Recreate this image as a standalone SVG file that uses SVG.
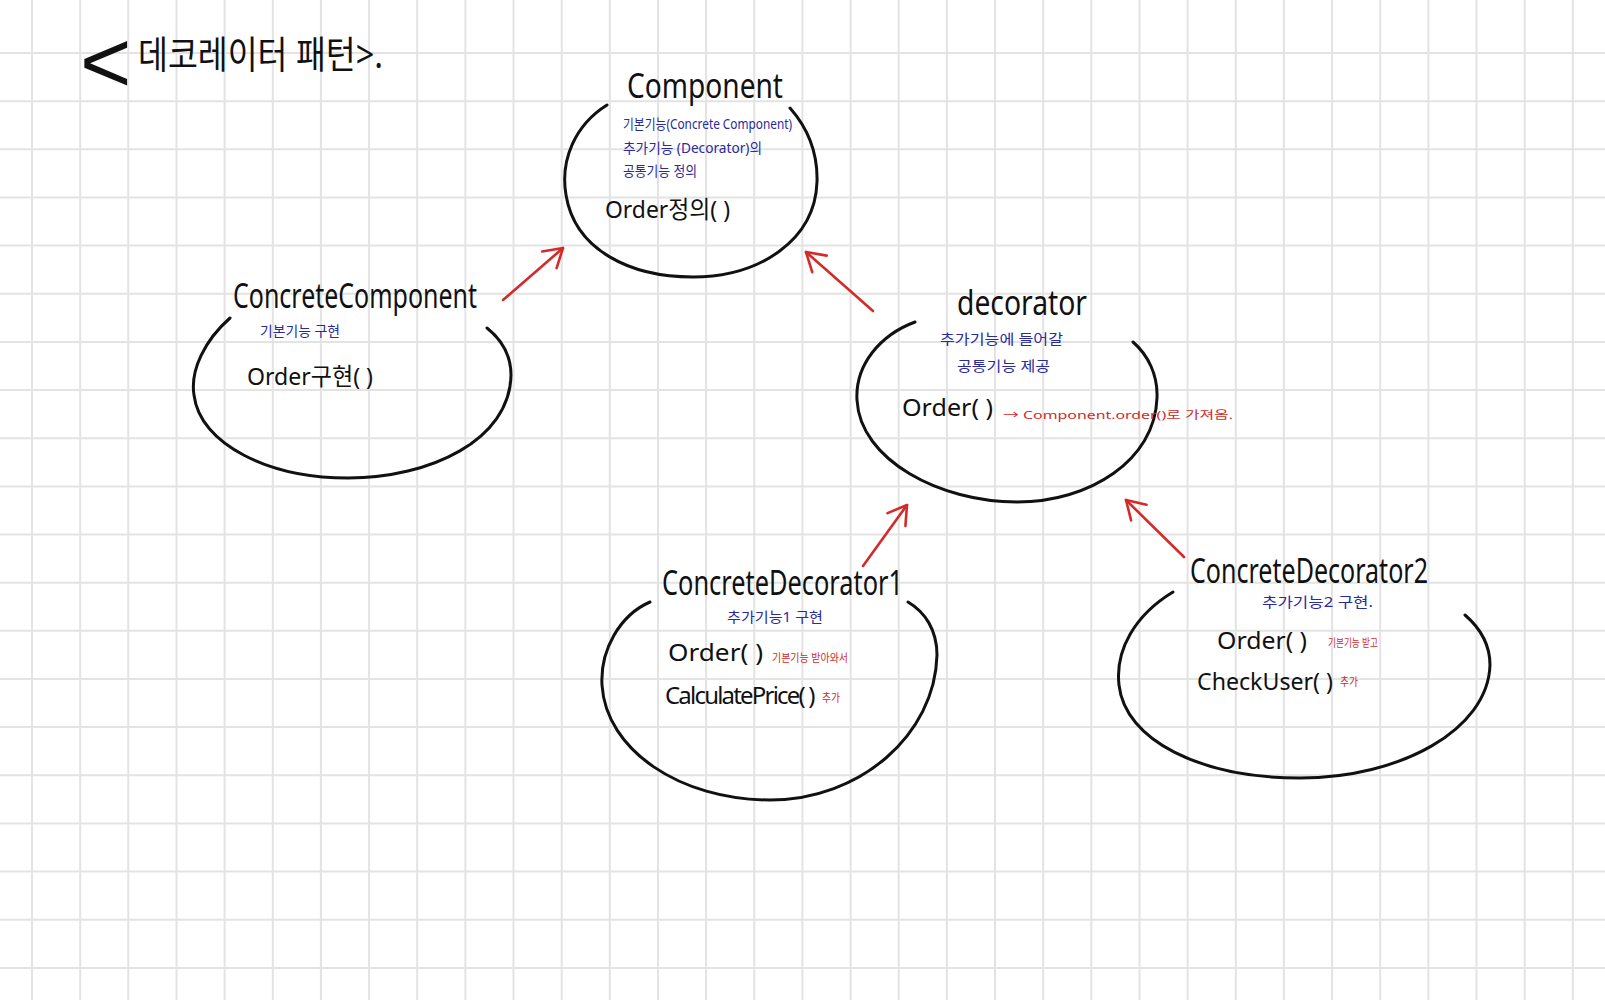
<svg xmlns="http://www.w3.org/2000/svg" width="1605" height="1000" viewBox="0 0 1605 1000">
<defs>
<style>
.grid{stroke:#e3e3e3;stroke-width:2;fill:none}
.ring{fill:none;stroke:#111;stroke-width:3;stroke-linecap:round}
.t{font-family:"Noto Sans","Noto Sans CJK KR",sans-serif;fill:#111}
.title{font-size:34px}
.m{font-size:24px}
.b{font-size:14px;fill:#2a2a9c}
.r{font-size:11px;fill:#d02a2a}
.conn{stroke:#d42a2a;stroke-width:2.6;fill:none;stroke-linecap:round}
</style>
<marker id="ah" viewBox="-22 -14 26 28" refX="0" refY="0" markerWidth="26" markerHeight="28" markerUnits="userSpaceOnUse" orient="auto">
<path d="M-18,-11 L0,0 L-18,11" fill="none" stroke="#d42a2a" stroke-width="2.6" stroke-linecap="round" stroke-linejoin="round"/>
</marker>
</defs>
<rect width="1605" height="1000" fill="#ffffff"/>
<g id="grid">
<path class="grid" d="M32,0V1000M80.2,0V1000M128.3,0V1000M176.5,0V1000M224.6,0V1000M272.8,0V1000M320.9,0V1000M369.1,0V1000M417.2,0V1000M465.4,0V1000M513.5,0V1000M561.7,0V1000M609.8,0V1000M658,0V1000M706.1,0V1000M754.3,0V1000M802.4,0V1000M850.6,0V1000M898.7,0V1000M946.9,0V1000M995,0V1000M1043.2,0V1000M1091.3,0V1000M1139.5,0V1000M1187.6,0V1000M1235.8,0V1000M1283.9,0V1000M1332.1,0V1000M1380.2,0V1000M1428.4,0V1000M1476.5,0V1000M1524.7,0V1000M1572.8,0V1000"/>
<path class="grid" d="M0,53H1605M0,101.2H1605M0,149.3H1605M0,197.5H1605M0,245.6H1605M0,293.8H1605M0,341.9H1605M0,390.1H1605M0,438.2H1605M0,486.4H1605M0,534.5H1605M0,582.7H1605M0,630.8H1605M0,679H1605M0,727.1H1605M0,775.3H1605M0,823.4H1605M0,871.6H1605M0,919.7H1605M0,967.9H1605"/>
</g>
<g id="title">
<text x="80" y="92" font-family="'Liberation Sans', sans-serif" font-size="88" fill="#111">&lt;</text>
<text class="t" x="138" y="68" font-size="38" textLength="245" lengthAdjust="spacingAndGlyphs">데코레이터 패턴&gt;.</text>
</g>
<g id="component">
<path class="ring" d="M607,105 C575,125 560,160 566,195 C575,250 630,277 693,277 C760,277 815,240 817,182 C818,150 805,125 790,108"/>
<text class="t title" x="627" y="98" textLength="156" lengthAdjust="spacingAndGlyphs">Component</text>
<text class="t b" x="623" y="129" font-size="13" textLength="169" lengthAdjust="spacingAndGlyphs">기본기능(Concrete Component)</text>
<text class="t b" x="623" y="153" font-size="13" textLength="139" lengthAdjust="spacingAndGlyphs">추가기능 (Decorator)의</text>
<text class="t b" x="623" y="176" font-size="13" textLength="74" lengthAdjust="spacingAndGlyphs">공통기능 정의</text>
<text class="t m" x="605" y="218" textLength="125" lengthAdjust="spacingAndGlyphs">Order정의( )</text>
</g>
<g id="concrete-component">
<path class="ring" d="M230,318 C205,340 190,370 194,395 C200,445 270,478 348,478 C430,478 510,440 511,375 C511,355 502,340 487,328"/>
<text class="t title" x="233" y="308" textLength="244" lengthAdjust="spacingAndGlyphs">ConcreteComponent</text>
<text class="t b" x="260" y="336" textLength="80" lengthAdjust="spacingAndGlyphs">기본기능 구현</text>
<text class="t m" x="247" y="385" textLength="126" lengthAdjust="spacingAndGlyphs">Order구현( )</text>
</g>
<g id="decorator">
<path class="ring" d="M915,322 C880,335 855,365 857,400 C860,460 940,502 1017,502 C1090,502 1155,460 1157,398 C1158,375 1148,355 1133,342"/>
<text class="t title" x="957" y="315" textLength="130" lengthAdjust="spacingAndGlyphs">decorator</text>
<text class="t b" x="940" y="344" font-size="16" textLength="123" lengthAdjust="spacingAndGlyphs">추가기능에 들어갈</text>
<text class="t b" x="957" y="371" font-size="16" textLength="93" lengthAdjust="spacingAndGlyphs">공통기능 제공</text>
<text class="t m" x="902" y="416" font-size="27" textLength="91" lengthAdjust="spacingAndGlyphs">Order( )</text>
<text class="t r" x="1003" y="419" font-size="18" textLength="230" lengthAdjust="spacingAndGlyphs">→ Component.order()로 가져옴.</text>
</g>
<g id="concrete-decorator1">
<path class="ring" d="M650,602 C620,615 600,650 602,685 C606,750 680,800 770,800 C860,800 935,735 937,655 C937,630 925,612 908,602"/>
<text class="t title" x="662" y="595" textLength="241" lengthAdjust="spacingAndGlyphs">ConcreteDecorator1</text>
<text class="t b" x="727" y="622" font-size="15" textLength="96" lengthAdjust="spacingAndGlyphs">추가기능1 구현</text>
<text class="t m" x="668" y="661" font-size="26" textLength="95" lengthAdjust="spacingAndGlyphs">Order( )</text>
<text class="t r" x="772" y="662" font-size="10" textLength="76" lengthAdjust="spacingAndGlyphs">기본기능 받아와서</text>
<text class="t m" x="665" y="704" font-size="24" letter-spacing="-1.8">CalculatePrice( )</text>
<text class="t r" x="822" y="702" font-size="10" textLength="18" lengthAdjust="spacingAndGlyphs">추가</text>
</g>
<g id="concrete-decorator2">
<path class="ring" d="M1173,592 C1135,615 1115,650 1119,685 C1125,740 1200,778 1300,778 C1400,778 1488,730 1490,665 C1490,645 1480,628 1465,615"/>
<text class="t title" x="1190" y="583" font-size="31" textLength="238" lengthAdjust="spacingAndGlyphs">ConcreteDecorator2</text>
<text class="t b" x="1262" y="607" font-size="15" textLength="111" lengthAdjust="spacingAndGlyphs">추가기능2 구현.</text>
<text class="t m" x="1217" y="649" font-size="26" textLength="90" lengthAdjust="spacingAndGlyphs">Order( )</text>
<text class="t r" x="1328" y="647" font-size="10" textLength="50" lengthAdjust="spacingAndGlyphs">기본기능 받고</text>
<text class="t m" x="1197" y="690" font-size="26" textLength="136" lengthAdjust="spacingAndGlyphs">CheckUser( )</text>
<text class="t r" x="1340" y="686" font-size="10" textLength="18" lengthAdjust="spacingAndGlyphs">추가</text>
</g>
<g id="connectors">
<path class="conn" d="M503,300 L563,248" marker-end="url(#ah)"/>
<path class="conn" d="M873,311 L806,252" marker-end="url(#ah)"/>
<path class="conn" d="M863,566 L907,505" marker-end="url(#ah)"/>
<path class="conn" d="M1184,557 L1126,500" marker-end="url(#ah)"/>
</g>
</svg>
